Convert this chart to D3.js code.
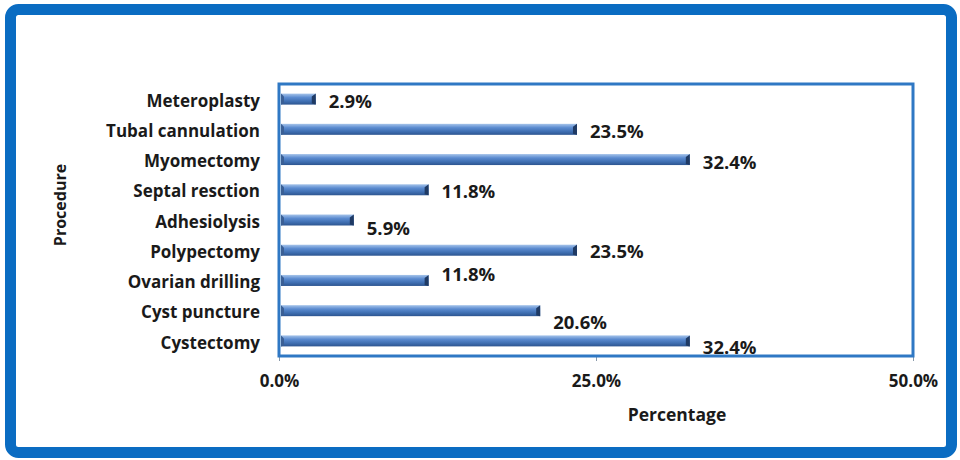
<!DOCTYPE html>
<html>
<head>
<meta charset="utf-8">
<script src="https://cdn.jsdelivr.net/npm/d3@7"></script>
<style>
  body { margin: 0; background: #fff; }
  text { font-family: "Open Sans", "DejaVu Sans", sans-serif; font-weight: bold; fill: #1a1a1a; }
</style>
</head>
<body>
<svg id="chart" width="960" height="460"></svg>
<script>
// data, top to bottom as in the chart
var procedures = ["Meteroplasty", "Tubal cannulation", "Myomectomy", "Septal resction",
  "Adhesiolysis", "Polypectomy", "Ovarian drilling", "Cyst puncture", "Cystectomy"];
var percentages = [2.9, 23.5, 32.4, 11.8, 5.9, 23.5, 11.8, 20.6, 32.4];
var tickValues = [0, 25, 50];

// label nudges (px) so values sit as in the original
var labelDy = [2, 2, 3, 2, 8, 1, -6, 12, 6];

var svg = d3.select("#chart");

var margin = {top: 84, right: 47, bottom: 104, left: 279};
var width = 960 - margin.left - margin.right;
var height = 460 - margin.top - margin.bottom;

// outer blue frame
svg.append("rect")
  .attr("x", 10.5).attr("y", 9.5)
  .attr("width", 941).attr("height", 443)
  .attr("rx", 8)
  .attr("fill", "none")
  .attr("stroke", "#0a6cc2")
  .attr("stroke-width", 11);

var defs = svg.append("defs");
var grad = defs.append("linearGradient")
  .attr("id", "barGrad")
  .attr("x1", 0).attr("y1", 0).attr("x2", 0).attr("y2", 1);
grad.append("stop").attr("offset", "0%").attr("stop-color", "#a6c4ea");
grad.append("stop").attr("offset", "35%").attr("stop-color", "#5b8bd0");
grad.append("stop").attr("offset", "70%").attr("stop-color", "#3f6fb2");
grad.append("stop").attr("offset", "100%").attr("stop-color", "#2d5590");

var g = svg.append("g")
  .attr("transform", "translate(" + margin.left + "," + margin.top + ")");

var x = d3.scaleLinear().domain([0, 50]).range([0, width]);
var y = d3.scaleBand().domain(procedures).range([0, height]);

var barH = 11;

// x axis (ticks only, labels below)
var xAxis = d3.axisBottom(x)
  .tickValues(tickValues)
  .tickSize(5)
  .tickFormat(function(d) { return d.toFixed(1) + "%"; });

var ax = g.append("g")
  .attr("transform", "translate(0," + height + ")")
  .call(xAxis);
ax.select(".domain").remove();
ax.selectAll(".tick line").attr("stroke", "#8899aa");
ax.selectAll(".tick text")
  .attr("y", 19)
  .style("font-size", "17px")
  .style("font-family", "'Open Sans', sans-serif")
  .style("font-weight", "bold")
  .attr("fill", "#1a1a1a");

// y axis labels
var yAxis = d3.axisLeft(y).tickSize(0).tickPadding(19);
var ay = g.append("g").call(yAxis);
ay.select(".domain").remove();
ay.selectAll(".tick text")
  .attr("dy", "0.45em")
  .style("font-size", "17px")
  .style("font-family", "'Open Sans', sans-serif")
  .style("font-weight", "bold")
  .attr("fill", "#1a1a1a");

// bars
var bars = g.selectAll(".bar")
  .data(percentages)
  .enter().append("g")
  .attr("class", "bar")
  .attr("transform", function(d, i) {
    return "translate(0," + (y(procedures[i]) + y.bandwidth() / 2 - barH / 2) + ")";
  });

bars.append("rect")
  .attr("x", 2)
  .attr("width", function(d) { return x(d) - 2; })
  .attr("height", barH)
  .attr("fill", "url(#barGrad)");

// dark end cap
bars.append("path")
  .attr("d", function(d) {
    var e = x(d);
    return "M" + (e - 4) + ",3 L" + e + ",0 L" + e + "," + barH + " L" + (e - 4) + "," + (barH - 1) + " Z";
  })
  .attr("fill", "#1f3a64");

// start cap
bars.append("path")
  .attr("d", "M2,0 L5,3 L5," + (barH - 1) + " L2," + barH + " Z")
  .attr("fill", "#3a5f95");

// value labels
g.selectAll(".val")
  .data(percentages)
  .enter().append("text")
  .attr("class", "val")
  .attr("x", function(d) { return x(d) + 13; })
  .attr("y", function(d, i) { return y(procedures[i]) + y.bandwidth() / 2 + labelDy[i]; })
  .attr("dy", "0.36em")
  .style("font-size", "18.5px")
  .text(function(d) { return d.toFixed(1) + "%"; });

// plot frame
g.append("rect")
  .attr("x", 0).attr("y", 0)
  .attr("width", width).attr("height", height)
  .attr("fill", "none")
  .attr("stroke", "#2f78c4")
  .attr("stroke-width", 3);

// axis titles
svg.append("text")
  .attr("x", 677).attr("y", 415)
  .attr("text-anchor", "middle")
  .attr("dy", "0.35em")
  .style("font-size", "17.5px")
  .text("Percentage");

svg.append("text")
  .attr("transform", "translate(60,205) rotate(-90)")
  .attr("text-anchor", "middle")
  .attr("dy", "0.35em")
  .style("font-size", "16px")
  .text("Procedure");
</script>
</body>
</html>
